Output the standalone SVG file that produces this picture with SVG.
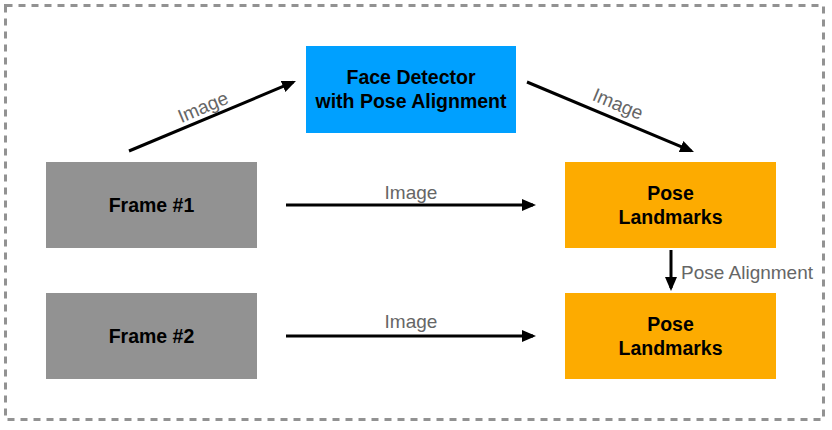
<svg xmlns="http://www.w3.org/2000/svg" width="832" height="430" viewBox="0 0 832 430">
<defs>
<style>
.frame{fill:#929292}
.det{fill:#00A0FF}
.pose{fill:#FDAB00}
.t{font-family:"Liberation Sans",Arial,Helvetica,sans-serif;font-weight:bold;font-size:19.5px;fill:#000;text-anchor:middle}
.lbl{font-family:"Liberation Sans",Arial,Helvetica,sans-serif;font-size:19px;fill:#666;text-anchor:middle}
.c{stroke:#000;stroke-width:3;fill:none;marker-end:url(#ah)}
</style>
<marker id="ah" viewBox="0 0 14 12" refX="11" refY="6" markerWidth="14" markerHeight="12" markerUnits="userSpaceOnUse" orient="auto">
<path d="M0,0 L14,6 L0,12 z" fill="#000"/>
</marker>
</defs>
<rect x="5.5" y="5.5" width="818" height="414" fill="#fff" stroke="#929292" stroke-width="3" stroke-dasharray="7,6"/>
<g id="face-detector">
<rect class="det" x="306" y="46" width="210" height="87"/>
<text class="t" x="411" y="84">Face Detector</text>
<text class="t" x="411" y="108">with Pose Alignment</text>
</g>
<g id="frame1">
<rect class="frame" x="46" y="162" width="211" height="86"/>
<text class="t" x="151.5" y="212">Frame #1</text>
</g>
<g id="frame2">
<rect class="frame" x="46" y="293" width="211" height="86"/>
<text class="t" x="151.5" y="343">Frame #2</text>
</g>
<g id="pose1">
<rect class="pose" x="565" y="162" width="211" height="86"/>
<text class="t" x="670.5" y="200">Pose</text>
<text class="t" x="670.5" y="224">Landmarks</text>
</g>
<g id="pose2">
<rect class="pose" x="565" y="293" width="211" height="86"/>
<text class="t" x="670.5" y="331">Pose</text>
<text class="t" x="670.5" y="355">Landmarks</text>
</g>
<g id="connectors">
<line class="c" x1="129" y1="151" x2="293.2" y2="82.2"/>
<line class="c" x1="527" y1="82" x2="691.2" y2="150.8"/>
<line class="c" x1="286" y1="205" x2="533" y2="205"/>
<line class="c" x1="286" y1="336" x2="533" y2="336"/>
<line class="c" x1="671" y1="250" x2="671" y2="288"/>
<text class="lbl" transform="translate(203,107) rotate(-22.7)" y="6.5">Image</text>
<text class="lbl" transform="translate(618,104) rotate(22.7)" y="6.5">Image</text>
<text class="lbl" x="411" y="199">Image</text>
<text class="lbl" x="411" y="328">Image</text>
<text class="lbl" x="681" y="279" style="text-anchor:start">Pose Alignment</text>
</g>
</svg>
